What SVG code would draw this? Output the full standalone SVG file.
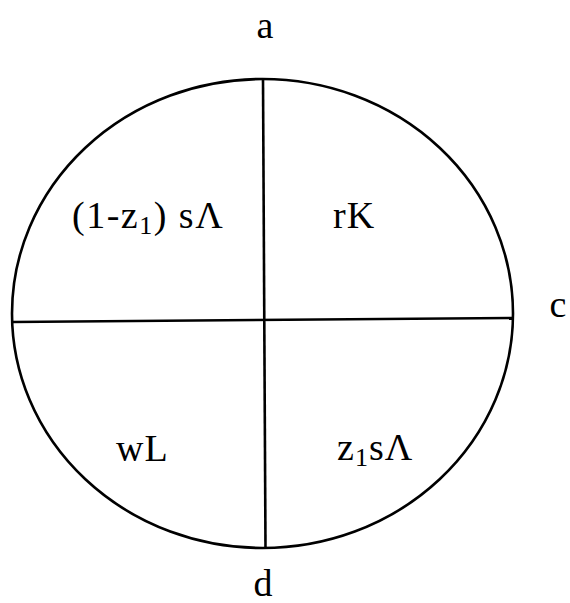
<svg xmlns="http://www.w3.org/2000/svg" width="570" height="603" viewBox="0 0 570 603">
<style>
.t{font-family:"Liberation Serif","Times New Roman",serif;font-size:38px;fill:#000}
.s{font-size:26px}
.ln{stroke:#000;stroke-width:2.6;fill:none}
</style>
<rect width="570" height="603" fill="#fff"/>
<g id="connectors">
<ellipse class="ln" cx="262.5" cy="313.5" rx="250.5" ry="234.5"/>
<line class="ln" x1="263" y1="79" x2="265.5" y2="548"/>
<line class="ln" x1="12" y1="322" x2="513" y2="318"/>
</g>
<g id="a"><text class="t" x="265" y="38" text-anchor="middle">a</text></g>
<g id="c"><text class="t" x="558" y="317" text-anchor="middle">c</text></g>
<g id="d"><text class="t" x="263" y="596" text-anchor="middle">d</text></g>
<g id="q1"><text class="t" x="72" y="228" letter-spacing="1.5">(1-z<tspan class="s" dy="6">1</tspan><tspan dy="-6">) sΛ</tspan></text></g>
<g id="q2"><text class="t" x="333" y="228" letter-spacing="1">rK</text></g>
<g id="q3"><text class="t" x="116" y="461" letter-spacing="1">wL</text></g>
<g id="q4"><text class="t" x="337" y="460" letter-spacing="1">z<tspan class="s" dy="6">1</tspan><tspan dy="-6">sΛ</tspan></text></g>
</svg>
